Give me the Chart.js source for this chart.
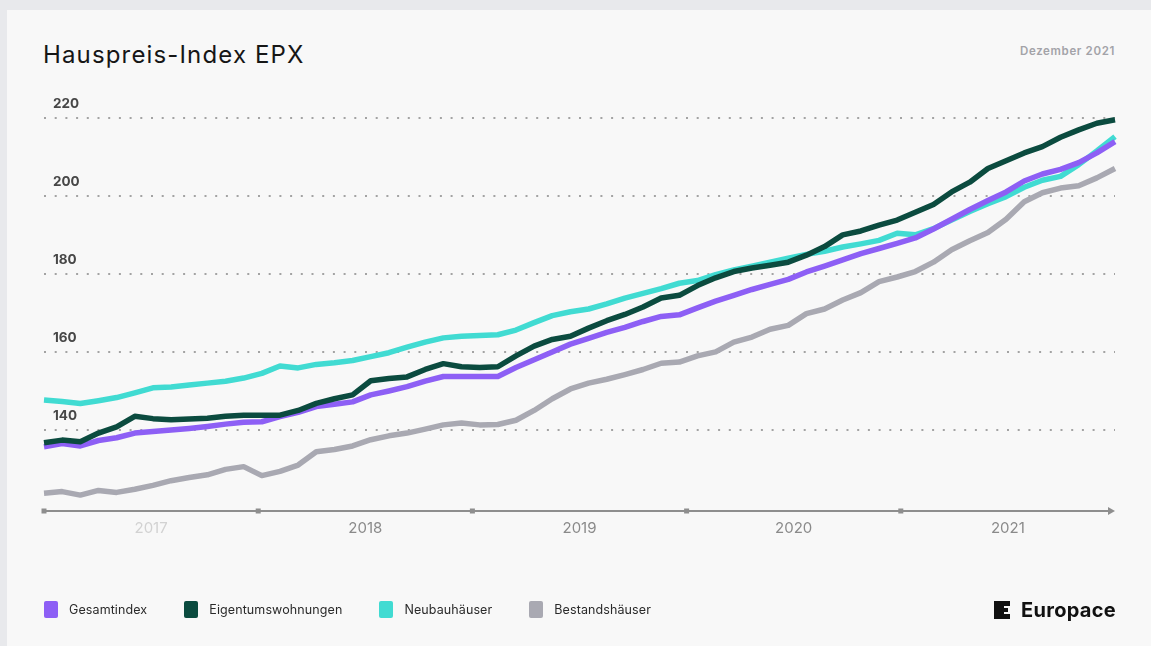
<!DOCTYPE html>
<html><head><meta charset="utf-8">
<script src="https://cdn.jsdelivr.net/npm/chart.js@4.4.1/dist/chart.umd.min.js"></script>
<style>
html,body{margin:0;padding:0;}
body{width:1151px;height:646px;background:#e8e9ec;position:relative;overflow:hidden;font-family:Inter,"Noto Sans",sans-serif;}
#card{position:absolute;left:7px;top:10px;right:0;bottom:0;background:#f8f8f8;}
#title{position:absolute;left:43px;top:40px;font-size:24px;line-height:30px;color:#161616;letter-spacing:1.15px;font-weight:400;white-space:nowrap;}
#date{position:absolute;right:36px;top:44px;font-size:11.5px;line-height:14px;color:#a3a3a8;font-weight:600;letter-spacing:0.65px;white-space:nowrap;}
#chartWrap{position:absolute;left:0;top:0;width:1151px;height:646px;}
#legend{position:absolute;left:44px;top:600px;height:18px;display:flex;align-items:center;}
.item{display:flex;align-items:center;margin-right:37px;}
.sw{width:14px;height:17px;border-radius:2px;margin-right:11px;}
.lbl{font-size:12.5px;color:#2a2a2a;white-space:nowrap;letter-spacing:0.1px;}
#logo{position:absolute;left:994px;top:599px;display:flex;align-items:center;height:22px;}
#logo span{font-size:20px;font-weight:700;color:#111;margin-left:11px;letter-spacing:0.3px;}
</style></head>
<body>
<div id="card"></div>
<div id="title">Hauspreis-Index EPX</div>
<div id="date">Dezember 2021</div>
<div id="chartWrap"><canvas id="c" width="1151" height="646" style="width:1151px;height:646px"></canvas></div>
<div id="legend"></div>
<div id="logo"><svg width="16" height="18" viewBox="0 0 16 18"><path d="M0 0H16V5H10V7H14V11H10V13H16V18H0Z" fill="#111"/></svg><span>Europace</span></div>
<script>
const yearLabels = ['2017','2018','2019','2020','2021'];
const monthNames = ['Jan','Feb','Mär','Apr','Mai','Jun','Jul','Aug','Sep','Okt','Nov','Dez'];
const yTicks = [140,160,180,200,220];
const seriesNames = ['Gesamtindex','Eigentumswohnungen','Neubauhäuser','Bestandshäuser'];
const seriesColors = ['#8d5ff5','#0b4b3f','#41dbd2','#a9a9b2'];

const gesamtindex = [135.7,136.5,135.9,137.3,138.0,139.2,139.6,140.0,140.4,140.9,141.5,142.0,
  142.1,143.4,144.5,146.0,146.6,147.2,149.0,150.0,151.1,152.5,153.7,153.7,
  153.7,153.7,156.0,158.0,160.0,162.0,163.5,165.0,166.3,167.8,169.1,169.5,
  171.3,173.0,174.5,176.0,177.3,178.6,180.5,182.0,183.6,185.2,186.5,187.8,
  189.2,191.5,194.0,196.5,198.8,201.0,203.8,205.6,206.8,208.5,211.0,213.9];
const eigentumswohnungen = [136.7,137.4,137.0,139.2,140.8,143.5,142.9,142.6,142.8,143.0,143.5,143.8,
  143.8,143.8,145.0,146.8,148.0,149.0,152.6,153.2,153.6,155.5,157.0,156.2,
  156.0,156.2,159.0,161.5,163.2,164.0,166.1,168.0,169.6,171.5,173.8,174.5,
  177.0,179.0,180.6,181.5,182.2,183.0,184.8,187.0,190.0,191.0,192.5,193.8,
  195.8,197.8,201.0,203.5,207.0,209.0,211.0,212.6,215.0,216.9,218.6,219.5];
const neubauhaeuser = [147.7,147.3,146.8,147.5,148.3,149.5,150.8,151.0,151.5,152.0,152.5,153.3,
  154.5,156.4,155.9,156.8,157.2,157.8,158.8,159.8,161.2,162.5,163.6,164.0,
  164.2,164.4,165.6,167.5,169.3,170.3,171.0,172.3,173.8,175.0,176.2,177.6,
  178.3,179.8,181.0,182.0,183.0,184.0,185.0,185.8,186.9,187.7,188.6,190.4,
  190.0,191.6,193.8,196.0,198.0,199.8,202.2,204.0,205.0,208.0,211.5,215.2];
const bestandshaeuser = [123.8,124.2,123.3,124.5,124.0,124.8,125.8,127.0,127.8,128.5,129.9,130.6,
  128.3,129.4,131.0,134.4,135.0,135.9,137.5,138.5,139.2,140.2,141.3,141.8,
  141.3,141.4,142.5,145.0,148.0,150.5,152.0,153.0,154.2,155.5,157.1,157.4,
  159.0,160.0,162.5,163.8,165.8,166.8,169.8,171.0,173.3,175.2,178.0,179.2,
  180.6,183.0,186.2,188.5,190.6,194.0,198.5,200.8,202.0,202.6,204.6,207.0];

const months = [];
yearLabels.forEach(y => monthNames.forEach(m => months.push(m + ' ' + y)));
const seriesData = [gesamtindex, eigentumswohnungen, neubauhaeuser, bestandshaeuser];
const drawOrder = [1, 0, 2, 3];

// legend
const lg = document.getElementById('legend');
seriesNames.forEach((n,i) => {
  const it = document.createElement('div'); it.className='item';
  const sw = document.createElement('div'); sw.className='sw'; sw.style.background = seriesColors[i];
  const lb = document.createElement('div'); lb.className='lbl'; lb.textContent = n;
  it.appendChild(sw); it.appendChild(lb); lg.appendChild(it);
});

const axisPlugin = {
  id:'axisLine',
  beforeDatasetsDraw(chart){
    const s = chart.scales.years, ctx = chart.ctx;
    const y = chart.chartArea.bottom + 3;
    const x0 = s.getPixelForValue(0), x1 = s.getPixelForValue(yearLabels.length);
    ctx.save();
    ctx.strokeStyle = '#8e8e8e'; ctx.fillStyle = '#8e8e8e'; ctx.lineWidth = 2;
    ctx.beginPath(); ctx.moveTo(x0, y); ctx.lineTo(x1 - 3, y); ctx.stroke();
    for (let i = 0; i < yearLabels.length; i++) {
      const x = s.getPixelForValue(i);
      ctx.fillRect(x - 2.5, y - 2.5, 5, 5);
    }
    ctx.beginPath(); ctx.moveTo(x1, y); ctx.lineTo(x1 - 7, y - 4); ctx.lineTo(x1 - 7, y + 4); ctx.closePath(); ctx.fill();
    ctx.restore();
  }
};

new Chart(document.getElementById('c'), {
  type:'line',
  data:{
    labels:months,
    datasets: seriesNames.map((n,i) => ({
      label:n, data:seriesData[i], borderColor:seriesColors[i], backgroundColor:seriesColors[i],
      order:drawOrder[i], fill:false
    }))
  },
  options:{
    responsive:false, animation:false,
    layout:{padding:{left:44,right:36,top:110,bottom:98}},
    elements:{line:{borderWidth:5.5,tension:0,borderCapStyle:'butt',borderJoinStyle:'round'},point:{radius:0,hoverRadius:0}},
    plugins:{legend:{display:false},tooltip:{enabled:false}},
    scales:{
      x:{type:'category',display:false,offset:false},
      years:{type:'linear',position:'bottom',min:0,max:yearLabels.length,
        grid:{display:false,drawTicks:false},border:{display:false},
        afterBuildTicks:s=>{s.ticks = yearLabels.map((l,i)=>({value:i+0.5}));},
        afterFit:s=>{s.height = 40;},
        ticks:{padding:11,autoSkip:false,maxRotation:0,
          callback:v=>yearLabels[Math.floor(v)],
          color:c=>c.index===0?'#d2d2d2':'#8a8a8a',
          font:{family:'Inter',size:15}}
      },
      y:{type:'linear',position:'left',min:120,max:222,
        afterBuildTicks:s=>{s.ticks = yTicks.map(v=>({value:v}));},
        afterFit:s=>{s.width = 0;},
        grid:{color:'#a3a3a3',lineWidth:2,drawTicks:false},
        border:{display:false,dash:[2,8.7]},
        ticks:{mirror:true,padding:9,labelOffset:-14,color:'#474747',font:{family:'Inter',size:13.5,weight:'700'}}
      }
    }
  },
  plugins:[axisPlugin]
});
</script>
</body></html>
